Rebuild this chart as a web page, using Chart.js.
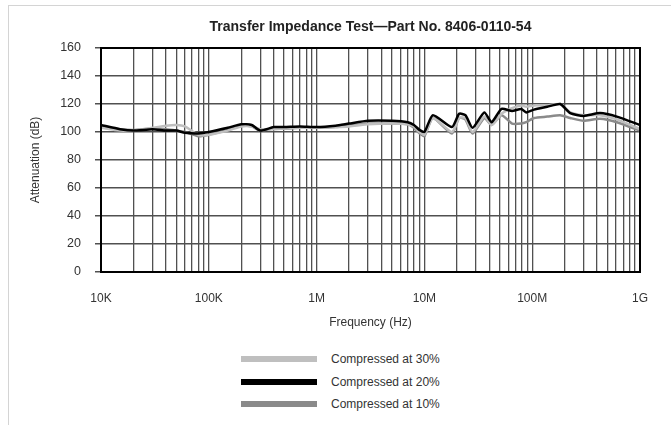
<!DOCTYPE html>
<html>
<head>
<meta charset="utf-8">
<script src="https://cdn.jsdelivr.net/npm/chart.js@4"></script>
<style>
  html, body { margin: 0; padding: 0; background: #fff; }
  body { width: 671px; height: 425px; position: relative; overflow: hidden; font-family: "Liberation Sans", Arial, sans-serif; }
  .card { position: absolute; left: 8px; top: 5px; width: 700px; height: 460px; border: 1px solid #d4d4d4; }
  #wrap { position: absolute; left: 0; top: 0; width: 671px; height: 340px; }
  #legend { position: absolute; left: 241px; top: 348px; }
  #legend .row { display: flex; align-items: center; height: 22.5px; }
  #legend .swatch { width: 76px; height: 6px; margin-right: 14px; }
  #legend .label { font-size: 12px; color: #333; }
</style>
</head>
<body>
<div class="card"></div>
<div id="wrap"><canvas id="impedanceChart"></canvas></div>
<div id="legend"></div>

<script>
// frequency points (Hz)
const freqs = [
  1e4, 1.5e4, 2e4, 3e4, 4e4, 5e4, 6e4, 8e4, 1e5, 1.5e5,
  2e5, 2.5e5, 3e5, 4e5, 5e5, 7e5, 1e6, 1.5e6, 2e6, 3e6,
  5e6, 7e6, 8e6, 9e6, 1e7, 1.2e7, 1.8e7, 2.1e7, 2.4e7, 2.8e7,
  3.6e7, 4.2e7, 5.2e7, 6.5e7, 7.9e7, 8.8e7, 1.04e8, 1.38e8, 1.82e8, 2.25e8,
  3e8, 4.26e8, 6.1e8, 1e9
];

// attenuation (dB) per compression level
const compressed30 = [
  103, 101, 101, 103, 104.5, 105, 104, 98, 98, 101,
  104, 104, 102, 102, 102.5, 103, 103, 103.5, 104, 105.5,
  106, 105.5, 104, 100, 98, 110, 100, 110, 110, 100,
  111, 105, 113, 117, 119, 118, 119, 119, 120, 114,
  112, 112, 109, 102
];
const compressed20 = [
  105, 102, 101, 102, 101, 101, 99.5, 99, 100, 103,
  105.5, 105, 101, 103.5, 103.5, 104, 103.5, 104.5, 106, 108,
  108, 107, 105, 101.5, 100, 112, 103.5, 113, 112, 103,
  114, 107, 116.5, 115, 116.5, 114, 116, 118, 120, 113.5,
  111.5, 113.5, 111, 105
];
const compressed10 = [
  104, 102, 101.5, 102.5, 102, 101, 100, 97, 98, 101.5,
  104.5, 104, 101, 102.5, 102.5, 103, 103, 103.5, 104.5, 106,
  106, 105.5, 103, 99, 97, 110, 99, 110, 109, 99,
  110, 105, 112, 106, 106, 107, 110, 111, 112, 110,
  108, 109.5, 107, 101
];

// axis ticks
const xTickValues = [1e4, 1e5, 1e6, 1e7, 1e8, 1e9];
const xTickLabels = ["10K", "100K", "1M", "10M", "100M", "1G"];
const yTicks = [0, 20, 40, 60, 80, 100, 120, 140, 160];

const chartTitle = "Transfer Impedance Test\u2014Part No. 8406-0110-54";
const seriesNames = ["Compressed at 30%", "Compressed at 20%", "Compressed at 10%"];
const seriesColors = ["#bfbfbf", "#000000", "#8a8a8a"];

const toPoints = (vals) => vals.map((v, i) => ({ x: freqs[i], y: v }));

const fontFamily = "'Liberation Sans', Arial, sans-serif";
const font = { family: fontFamily, size: 12 };

// black frame around the plot area + title centred over it
const framePlugin = {
  id: "frame",
  afterDatasetsDraw(chart) {
    const { ctx, chartArea: a } = chart;
    ctx.save();
    ctx.strokeStyle = "#000";
    ctx.lineWidth = 2;
    ctx.strokeRect(a.left, a.top, a.right - a.left, a.bottom - a.top);
    ctx.fillStyle = "#222";
    ctx.font = `bold 14px ${fontFamily}`;
    ctx.textAlign = "center";
    ctx.textBaseline = "middle";
    ctx.fillText(chartTitle, (a.left + a.right) / 2, 27);
    ctx.restore();
  },
};

const ctx = document.getElementById("impedanceChart").getContext("2d");
const chart = new Chart(ctx, {
  type: "line",
  data: {
    datasets: [compressed30, compressed20, compressed10].map((vals, i) => ({
      label: seriesNames[i],
      data: toPoints(vals),
      borderColor: seriesColors[i],
      backgroundColor: seriesColors[i],
      borderWidth: 2.5,
      pointRadius: 0,
      tension: 0.2,
      order: i === 1 ? 0 : 1,
    })),
  },
  options: {
    responsive: true,
    maintainAspectRatio: false,
    animation: false,
    layout: { padding: { left: 0, right: 31, top: 48, bottom: 0 } },
    plugins: {
      legend: { display: false },
      tooltip: { enabled: false },
      title: { display: false },
    },
    scales: {
      x: {
        type: "logarithmic",
        min: 1e4,
        max: 1e9,
        afterBuildTicks(scale) {
          const ticks = [];
          xTickValues.forEach((d, k) => {
            const last = k === xTickValues.length - 1;
            for (let m = 1; m <= (last ? 1 : 9); m++) ticks.push({ value: d * m });
          });
          scale.ticks = ticks;
        },
        afterFit(scale) { scale.height = 68; },
        ticks: {
          autoSkip: false,
          maxRotation: 0,
          color: "#333",
          font,
          padding: 19,
          callback(value) {
            const k = xTickValues.indexOf(value);
            return k >= 0 ? xTickLabels[k] : "";
          },
        },
        grid: { color: "#505050", lineWidth: 1.3, drawTicks: false },
        border: { color: "#000", width: 2 },
        title: {
          display: true,
          text: "Frequency (Hz)",
          color: "#333",
          font,
          padding: { top: 0, bottom: 10 },
        },
      },
      y: {
        min: 0,
        max: 160,
        afterBuildTicks(scale) {
          scale.ticks = yTicks.map((v) => ({ value: v }));
        },
        afterFit(scale) { scale.width = 101; },
        ticks: { color: "#333", font: { ...font, size: 12.5 }, padding: 14 },
        grid: { color: "#505050", lineWidth: 1.5, tickLength: 6 },
        border: { color: "#000", width: 2 },
        title: {
          display: true,
          text: "Attenuation (dB)",
          color: "#333",
          font,
          padding: { top: 28, bottom: 0 },
        },
      },
    },
  },
  plugins: [framePlugin],
});

// legend stacked under the chart
const legend = document.getElementById("legend");
chart.data.datasets.forEach((ds) => {
  const row = document.createElement("div");
  row.className = "row";
  row.innerHTML = `<span class="swatch" style="background:${ds.borderColor}"></span><span class="label">${ds.label}</span>`;
  legend.appendChild(row);
});
</script>
</body>
</html>
